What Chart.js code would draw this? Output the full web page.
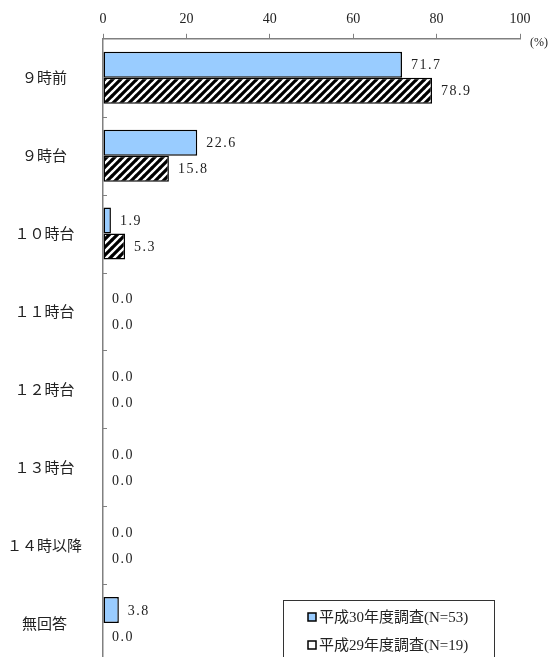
<!DOCTYPE html>
<html lang="ja">
<head>
  <meta charset="UTF-8">
  <title>出勤時刻</title>
  <script src="https://cdn.jsdelivr.net/npm/chart.js"></script>
  <style>
  body {
    margin: 0;
    overflow: hidden;
    background: #fff;
  }

  #myChart {
    display: block;
  }
</style>
</head>
<body>
  <canvas id="myChart" width="554" height="662"></canvas>

  <script>
    const categories = ['９時前', '９時台', '１０時台', '１１時台', '１２時台', '１３時台', '１４時以降', '無回答'];
    const seriesNames = ['平成30年度調査(N=53)', '平成29年度調査(N=19)'];
    const values30 = [71.7, 22.6, 1.9, 0.0, 0.0, 0.0, 0.0, 3.8];
    const values29 = [78.9, 15.8, 5.3, 0.0, 0.0, 0.0, 0.0, 0.0];
    const xTicks = [0, 20, 40, 60, 80, 100];

    const numFont = "'Liberation Serif', 'Noto Sans CJK JP', serif";
    const jpFont = "'Noto Sans CJK JP', 'Liberation Serif', sans-serif";
    const blue = '#99CCFF';

    // diagonal "/" hatch
    function makeHatch() {
      const s = 8;
      const c = document.createElement('canvas');
      c.width = s;
      c.height = s;
      const g = c.getContext('2d');
      g.fillStyle = '#fff';
      g.fillRect(0, 0, s, s);
      g.strokeStyle = '#000';
      g.lineWidth = 3.2;
      g.beginPath();
      g.moveTo(-1, s + 1); g.lineTo(s + 1, -1);
      g.moveTo(-1, 1); g.lineTo(1, -1);
      g.moveTo(s - 1, s + 1); g.lineTo(s + 1, s - 1);
      g.stroke();
      return g.createPattern(c, 'repeat');
    }
    const hatch = makeHatch();

    const extras = {
      id: 'extras',
      afterDatasetsDraw(chart) {
        const ctx = chart.ctx;
        ctx.save();
        ctx.font = '14px ' + numFont;
        ctx.fillStyle = '#222';
        ctx.textAlign = 'left';
        ctx.textBaseline = 'middle';
        ctx.letterSpacing = '1.5px';
        chart.data.datasets.forEach((ds, di) => {
          chart.getDatasetMeta(di).data.forEach((bar, i) => {
            ctx.fillText(ds.data[i].toFixed(1), bar.x + 9, bar.y + 1);
          });
        });
        ctx.restore();

        // inward tick marks on the category axis
        const y = chart.scales.y;
        const left = chart.chartArea.left;
        ctx.save();
        ctx.strokeStyle = '#808080';
        ctx.lineWidth = 1;
        for (let i = 0; i < categories.length - 1; i++) {
          const py = Math.round((y.getPixelForTick(i) + y.getPixelForTick(i + 1)) / 2) + 0.5;
          ctx.beginPath();
          ctx.moveTo(left, py);
          ctx.lineTo(left + 4, py);
          ctx.stroke();
        }
        ctx.restore();
      },
      afterDraw(chart) {
        const ctx = chart.ctx;
        ctx.save();
        ctx.font = '12px ' + numFont;
        ctx.fillStyle = '#222';
        ctx.textBaseline = 'middle';
        ctx.fillText('(%)', chart.chartArea.right + 10, 43);

        // legend box
        ctx.fillStyle = '#fff';
        ctx.fillRect(283.5, 600.5, 211, 70);
        ctx.strokeStyle = '#333';
        ctx.lineWidth = 1;
        ctx.strokeRect(283.5, 600.5, 211, 70);
        const fills = [blue, '#fff'];
        const rows = [617, 645];
        ctx.font = '15px ' + numFont;
        seriesNames.forEach((name, i) => {
          ctx.fillStyle = fills[i];
          ctx.fillRect(308, rows[i] - 4, 8, 8);
          ctx.strokeStyle = '#000';
          ctx.lineWidth = 1.5;
          ctx.strokeRect(308, rows[i] - 4, 8, 8);
          ctx.fillStyle = '#222';
          ctx.fillText(name, 319, rows[i] + 1);
        });
        ctx.restore();
      }
    };

    const ctx = document.getElementById('myChart').getContext('2d');
    new Chart(ctx, {
      type: 'bar',
      data: {
        labels: categories,
        datasets: [
          {
            label: seriesNames[0],
            data: values30,
            backgroundColor: blue,
            borderColor: '#000',
            borderWidth: c => c.raw === 0 ? 0 : 1.5,
            borderSkipped: false,
            categoryPercentage: 0.667,
            barPercentage: 1.0
          },
          {
            label: seriesNames[1],
            data: values29,
            backgroundColor: hatch,
            borderColor: '#000',
            borderWidth: c => c.raw === 0 ? 0 : 1.5,
            borderSkipped: false,
            categoryPercentage: 0.667,
            barPercentage: 1.0
          }
        ]
      },
      options: {
        indexAxis: 'y',
        responsive: false,
        animation: false,
        layout: {
          autoPadding: false,
          padding: { top: 5, right: 34, bottom: 0, left: 0 }
        },
        plugins: {
          legend: { display: false },
          tooltip: { enabled: false }
        },
        scales: {
          x: {
            position: 'top',
            min: 0,
            max: 100,
            afterBuildTicks: scale => {
              scale.ticks = xTicks.map(v => ({ value: v }));
            },
            grid: {
              drawOnChartArea: false,
              drawTicks: true,
              tickLength: 5,
              color: '#808080'
            },
            border: { display: true, color: '#808080', width: 1.5 },
            ticks: {
              padding: 6,
              color: '#222',
              font: { family: numFont, size: 14 }
            }
          },
          y: {
            grid: { display: false },
            border: { display: true, color: '#808080', width: 1.5 },
            afterFit: scale => {
              scale.width = 103;
              scale.paddingTop = 0;
              scale.paddingBottom = 0;
            },
            ticks: {
              autoSkip: false,
              crossAlign: 'center',
              padding: 13,
              color: '#222',
              font: { family: jpFont, size: 15 }
            }
          }
        }
      },
      plugins: [extras]
    });
  </script>
</body>
</html>
